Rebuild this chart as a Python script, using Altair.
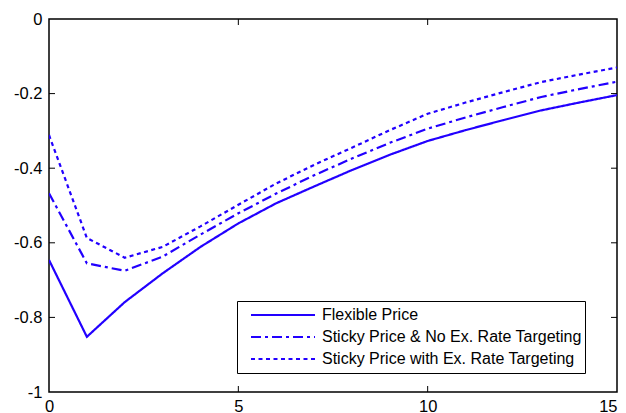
import altair as alt
import pandas as pd

periods = list(range(16))
flexible = [-0.646, -0.852, -0.759, -0.682, -0.611, -0.548, -0.494, -0.449,
            -0.405, -0.364, -0.327, -0.298, -0.271, -0.245, -0.224, -0.204]
sticky_no_target = [-0.467, -0.655, -0.675, -0.637, -0.578, -0.521, -0.468, -0.419,
                    -0.374, -0.332, -0.294, -0.264, -0.236, -0.209, -0.188, -0.168]
sticky_target = [-0.311, -0.587, -0.640, -0.611, -0.556, -0.498, -0.441, -0.391,
                 -0.345, -0.298, -0.254, -0.224, -0.196, -0.169, -0.149, -0.130]
series_names = ["Flexible Price",
                "Sticky Price & No Ex. Rate Targeting",
                "Sticky Price with Ex. Rate Targeting"]
x_tick_values = [0, 5, 10, 15]
y_tick_values = [0, -0.2, -0.4, -0.6, -0.8, -1]
x_inner_ticks = [5, 10]
y_inner_ticks = [-0.2, -0.4, -0.6, -0.8]

rows = []
for name, vals in zip(series_names, [flexible, sticky_no_target, sticky_target]):
    for t, v in zip(periods, vals):
        rows.append({"t": t, "value": v, "series": name})
df = pd.DataFrame(rows)

W, H = 568, 373
BLUE = "#2200ff"
FONT = "Liberation Sans"
TL = 6

x_scale = alt.Scale(domain=[0, 15], nice=False, zero=False)
y_scale = alt.Scale(domain=[-1, 0], nice=False, zero=False)

lines = alt.Chart(df).mark_line(strokeWidth=2.2, color=BLUE, clip=True).encode(
    x=alt.X("t:Q", scale=x_scale, title=None,
            axis=alt.Axis(values=x_tick_values, labelFlush=False, labelOverlap=False,
                          labelAlign={"condition": {"test": "datum.value == 15", "value": "right"},
                                      "value": "center"},
                          labelPadding=6, ticks=False, domain=False, grid=False,
                          labelFontSize=16.5, labelFont=FONT, labelColor="black")),
    y=alt.Y("value:Q", scale=y_scale, title=None,
            axis=alt.Axis(values=y_tick_values, labelOverlap=False, labelPadding=7,
                          labelExpr="toString(round(datum.value*10)/10)",
                          ticks=False, domain=False, grid=False,
                          labelFontSize=16.5, labelFont=FONT, labelColor="black")),
    strokeDash=alt.StrokeDash(
        "series:N",
        scale=alt.Scale(domain=series_names, range=[[1, 0], [10, 4, 3, 4], [4, 3.5]]),
        legend=alt.Legend(title=None, orient="none", legendX=188, legendY=282,
                          symbolType="stroke", symbolSize=4096, symbolStrokeWidth=2,
                          symbolStrokeColor=BLUE, symbolOffset=10,
                          labelFontSize=16, labelFont=FONT, labelColor="black",
                          labelOffset=6, labelLimit=500, clipHeight=22, rowPadding=0,
                          padding=3, strokeColor="black", fillColor="white"),
    ),
)

yt = pd.DataFrame({"value": y_inner_ticks})
xt = pd.DataFrame({"t": x_inner_ticks})

left_ticks = alt.Chart(yt).mark_rule(color="black", strokeWidth=1).encode(
    y=alt.Y("value:Q", scale=y_scale, title=None), x=alt.value(0), x2=alt.value(TL))
right_ticks = alt.Chart(yt).mark_rule(color="black", strokeWidth=1).encode(
    y=alt.Y("value:Q", scale=y_scale, title=None), x=alt.value(W - TL), x2=alt.value(W))
bottom_ticks = alt.Chart(xt).mark_rule(color="black", strokeWidth=1).encode(
    x=alt.X("t:Q", scale=x_scale, title=None), y=alt.value(H - TL), y2=alt.value(H))
top_ticks = alt.Chart(xt).mark_rule(color="black", strokeWidth=1).encode(
    x=alt.X("t:Q", scale=x_scale, title=None), y=alt.value(0), y2=alt.value(TL))

chart = alt.layer(lines, left_ticks, right_ticks, bottom_ticks, top_ticks).properties(
    width=W, height=H,
    autosize=alt.AutoSizeParams(type="none"),
    padding={"left": 41, "top": 11, "right": 1, "bottom": 21},
).configure_view(stroke="black", strokeWidth=1.5)

chart.save("out.html", embed_options={"renderer": "svg", "actions": False})
